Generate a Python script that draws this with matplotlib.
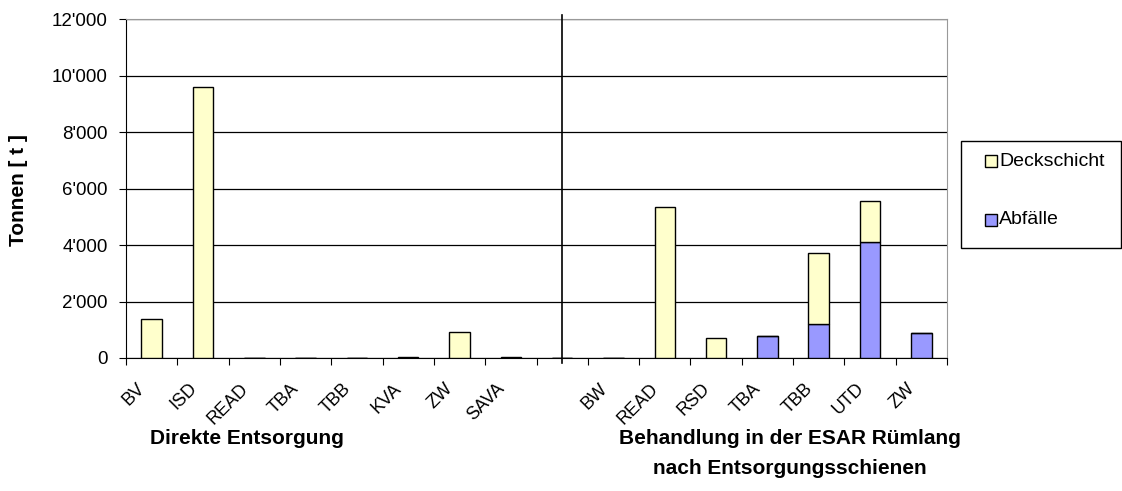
import matplotlib
matplotlib.use("Agg")
import matplotlib.pyplot as plt
from matplotlib.ticker import FuncFormatter
from matplotlib.patches import Rectangle

plt.rcParams['font.family'] = ['Liberation Sans', 'DejaVu Sans']

# data (tonnes)
left_labels = ['BV', 'ISD', 'READ', 'TBA', 'TBB', 'KVA', 'ZW', 'SAVA']
left_deck = [1380, 9600, 0, 0, 0, 40, 920, 40]
left_abf = [0, 0, 0, 0, 0, 0, 0, 0]

right_labels = ['BW', 'READ', 'RSD', 'TBA', 'TBB', 'UTD', 'ZW']
right_deck = [0, 5340, 720, 0, 2530, 1440, 0]
right_abf = [0, 0, 0, 790, 1200, 4100, 875]

group_left = 'Direkte Entsorgung'
group_right = ['Behandlung in der ESAR Rümlang', 'nach Entsorgungsschienen']
legend_labels = ['Deckschicht', 'Abfälle']

c_deck = '#FFFFCC'
c_abf = '#9999FF'

# one empty slot between the two groups
labels = left_labels + [''] + right_labels
deck = left_deck + [0] + right_deck
abf = left_abf + [0] + right_abf
x = list(range(len(labels)))
sep = len(left_labels)

W, H = 1122, 491
fig = plt.figure(figsize=(W / 100, H / 100), dpi=100)
ax = fig.add_axes([126/W, 133/H, 821/W, 339/H])

ax.bar(x, abf, width=0.4, color=c_abf, edgecolor='black', linewidth=1, zorder=3)
ax.bar(x, deck, width=0.4, bottom=abf, color=c_deck, edgecolor='black', linewidth=1, zorder=3)

ax.set_xlim(-0.5, len(labels) - 0.5)
ax.set_ylim(0, 12000)
ax.set_yticks(range(0, 12001, 2000))
ax.yaxis.set_major_formatter(FuncFormatter(lambda v, p: f"{int(v):,}".replace(',', "'")))
ax.grid(axis='y', color='black', linewidth=0.9, zorder=1)
ax.tick_params(axis='y', labelsize=13.5, length=5, pad=8, direction='out')

# ticks at category borders, labels drawn separately
ax.set_xticks([i - 0.5 for i in range(len(labels) + 1)])
ax.set_xticklabels([])
ax.tick_params(axis='x', length=5, direction='out')

for i, lbl in enumerate(labels):
    if lbl:
        ax.annotate(lbl, xy=(i, 0), xycoords=('data', 'axes fraction'),
                    xytext=(-9, -28), textcoords='offset pixels',
                    rotation=45, ha='right', va='center', rotation_mode='anchor',
                    fontsize=13)

ax.spines['top'].set_color('#999999')
ax.spines['right'].set_color('#999999')
ax.spines['left'].set_color('black')
ax.spines['bottom'].set_color('black')

# separator between the two groups
ax.plot([sep, sep], [-0.015, 1.012], color='black', linewidth=1.2,
        transform=ax.get_xaxis_transform(), clip_on=False, zorder=4)

fig.text(19/W, 1 - 190/H, 'Tonnen [ t ]', rotation=90, ha='center', va='center',
         fontsize=15, fontweight='bold')
fig.text(247/W, 1 - 438/H, group_left, ha='center', va='center',
         fontsize=15, fontweight='bold')
fig.text(790/W, 1 - 438/H, group_right[0], ha='center', va='center',
         fontsize=15, fontweight='bold')
fig.text(790/W, 1 - 468/H, group_right[1], ha='center', va='center',
         fontsize=15, fontweight='bold')

# legend box drawn by hand to match the reference spacing
fig.add_artist(Rectangle((961/W, 1 - 248/H), 160/W, 107/H, transform=fig.transFigure,
                         facecolor='white', edgecolor='black', linewidth=1))
for lbl, col, yc in zip(legend_labels, [c_deck, c_abf], [161, 220]):
    fig.add_artist(Rectangle((985/W, 1 - (yc + 6)/H), 12/W, 12/H, transform=fig.transFigure,
                             facecolor=col, edgecolor='black', linewidth=1))
    fig.text(999/W, 1 - yc/H, lbl, ha='left', va='center', fontsize=14)

fig.savefig('out.png', dpi=100)
